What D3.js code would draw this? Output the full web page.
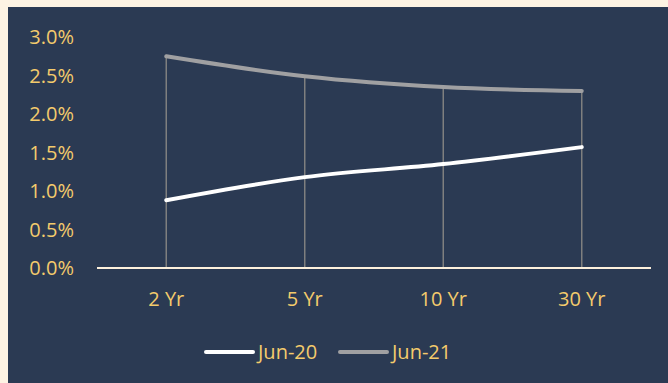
<!DOCTYPE html>
<html>
<head>
<meta charset="utf-8">
<script src="https://cdn.jsdelivr.net/npm/d3@7"></script>
<style>
  body { margin: 0; background: #fdf3e3; }
  svg { display: block; }
</style>
</head>
<body>
<div id="chart"></div>
<script>
const categories = ["2 Yr", "5 Yr", "10 Yr", "30 Yr"];
const seriesNames = ["Jun-20", "Jun-21"];
const jun20 = [0.88, 1.18, 1.35, 1.57];
const jun21 = [2.75, 2.49, 2.35, 2.30];
const yTicks = [0, 0.5, 1, 1.5, 2, 2.5, 3];

function init() {
    const w = 668, h = 383;
    const gold = "#f4cb6c";
    const font = "'Open Sans', sans-serif";

    const svg = d3.select("#chart")
        .append("svg")
        .attr("width", w)
        .attr("height", h);

    // cream page edge, then navy panel
    svg.append("rect").attr("width", w).attr("height", h).attr("fill", "#fdf3e3");
    svg.append("rect").attr("x", 8).attr("y", 7).attr("width", w - 8).attr("height", h - 7).attr("fill", "#2b3a53");

    const xScale = d3.scaleBand()
        .domain(categories)
        .range([97, 651]);

    const yScale = d3.scaleLinear()
        .domain([0, 3])
        .range([268, 37]);

    const cx = d => xScale(d) + xScale.bandwidth() / 2;

    // y tick labels
    svg.selectAll("text.ytick")
        .data(yTicks)
        .enter()
        .append("text")
        .attr("class", "ytick")
        .text(d => d.toFixed(1) + "%")
        .attr("x", 74)
        .attr("y", d => yScale(d))
        .attr("dy", "0.35em")
        .attr("text-anchor", "end")
        .attr("font-family", font)
        .attr("font-size", "20px")
        .attr("fill", gold);

    // drop lines from the higher series to the axis
    svg.selectAll("line.drop")
        .data(categories)
        .enter()
        .append("line")
        .attr("class", "drop")
        .attr("x1", cx)
        .attr("x2", cx)
        .attr("y1", (d, i) => yScale(Math.max(jun20[i], jun21[i])))
        .attr("y2", yScale(0))
        .attr("stroke", "#7f7f7f")
        .attr("stroke-width", 1.5);

    // baseline
    svg.append("line")
        .attr("x1", 97).attr("x2", 651)
        .attr("y1", yScale(0)).attr("y2", yScale(0))
        .attr("stroke", "#fdf0dc")
        .attr("stroke-width", 2);

    // x labels
    svg.selectAll("text.xtick")
        .data(categories)
        .enter()
        .append("text")
        .attr("class", "xtick")
        .text(d => d)
        .attr("x", cx)
        .attr("y", 299)
        .attr("dy", "0.35em")
        .attr("text-anchor", "middle")
        .attr("font-family", font)
        .attr("font-size", "20px")
        .attr("fill", gold);

    const line = d3.line()
        .x((d, i) => cx(categories[i]))
        .y(d => yScale(d))
        .curve(d3.curveMonotoneX);

    const series = [
        { name: seriesNames[0], values: jun20, color: "#ffffff" },
        { name: seriesNames[1], values: jun21, color: "#a0a0a2" }
    ];

    svg.selectAll("path.series")
        .data(series)
        .enter()
        .append("path")
        .attr("class", "series")
        .attr("d", d => line(d.values))
        .attr("fill", "none")
        .attr("stroke", d => d.color)
        .attr("stroke-width", 4)
        .attr("stroke-linecap", "round")
        .attr("stroke-linejoin", "round");

    // legend
    const legendX = [204, 338];
    const lg = svg.selectAll("g.legend")
        .data(series)
        .enter()
        .append("g")
        .attr("class", "legend")
        .attr("transform", (d, i) => `translate(${legendX[i]},352)`);

    lg.append("line")
        .attr("x1", 2).attr("x2", 49)
        .attr("stroke", d => d.color)
        .attr("stroke-width", 4)
        .attr("stroke-linecap", "round");

    lg.append("text")
        .text(d => d.name)
        .attr("x", 54)
        .attr("dy", "0.35em")
        .attr("font-family", font)
        .attr("font-size", "20px")
        .attr("fill", gold);
}

window.onload = init;
</script>
</body>
</html>
